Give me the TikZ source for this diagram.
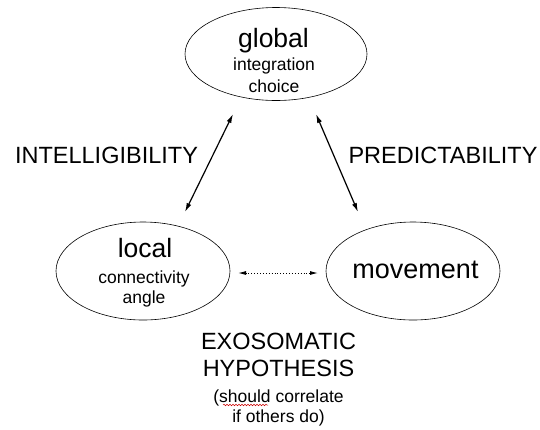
\documentclass[tikz,border=0pt]{standalone}
\usepackage{fontspec}
\setmainfont{Liberation Sans}
\usetikzlibrary{shapes.geometric,arrows.meta,decorations.pathmorphing}
\begin{document}
\begin{tikzpicture}[x=1pt,y=-1pt,
  oval/.style={draw,ellipse,line width=0.6pt,inner sep=0pt},
  big/.style={font=\fontsize{26.5}{28}\selectfont,anchor=base,inner sep=0pt},
  small/.style={font=\fontsize{17.5}{20}\selectfont,anchor=base,inner sep=0pt},
  lab/.style={font=\fontsize{23.5}{26}\selectfont,anchor=base,inner sep=0pt},
  link/.style={line width=1.2pt,{Latex[length=9pt,width=5pt]}-{Latex[length=9pt,width=5pt]}},
  dlink/.style={line width=0.9pt,dotted,{Latex[length=8pt,width=4pt]}-{Latex[length=8pt,width=4pt]}}]
\useasboundingbox (0,0) rectangle (540,429);
\node[oval,minimum width=182pt,minimum height=93pt] (global) at (276,54) {};
\node[oval,minimum width=174pt,minimum height=98pt] (local) at (143,271) {};
\node[oval,minimum width=174pt,minimum height=98pt] (movement) at (413,271) {};
\node[big] (tglobal) at (273.5,47) {global};
\node[small] (tint) at (274,70) {integration};
\node[small] (tcho) at (274,92) {choice};
\node[big] (tlocal) at (145,257) {local};
\node[small] (tcon) at (144,283) {connectivity};
\node[small] (tang) at (144,303) {angle};
\node[big,font=\fontsize{27}{28}\selectfont] (tmov) at (415.5,278) {movement};
\node[lab] (intel) at (106.5,163) {INTELLIGIBILITY};
\node[lab] (pred) at (443,163) {PREDICTABILITY};
\node[lab] (exo) at (278.5,349) {EXOSOMATIC};
\node[lab] (hyp) at (278.5,376) {HYPOTHESIS};
\node[small] (sh) at (278.5,402) {(should correlate};
\node[small] (oth) at (278.5,422) {if others do)};
\coordinate (g1) at (233,114);
\coordinate (l1) at (185,212);
\coordinate (g2) at (316,114);
\coordinate (m1) at (358,212);
\coordinate (l2) at (238,273);
\coordinate (m2) at (318,273);
\draw[link] (g1) -- (l1);
\draw[link] (g2) -- (m1);
\draw[dlink] (l2) -- (m2);
\coordinate (sq1) at (223,405);
\coordinate (sq2) at (268,405);
\draw[red!80!black,line width=0.5pt,decorate,decoration={snake,amplitude=0.8pt,segment length=3pt}] (sq1) -- (sq2);
\end{tikzpicture}
\end{document}
